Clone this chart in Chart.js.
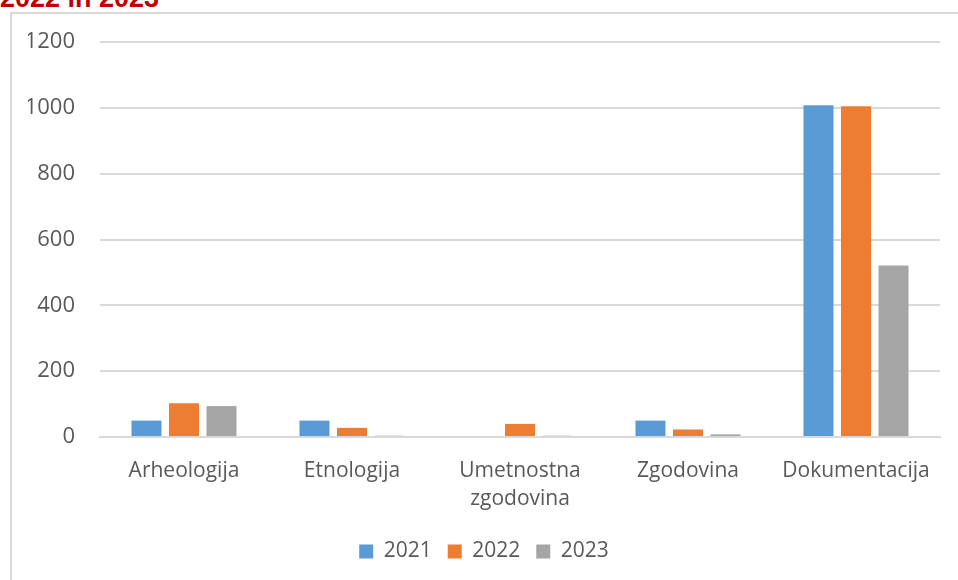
<!DOCTYPE html>
<html>
<head>
<meta charset="utf-8">
<script src="https://cdn.jsdelivr.net/npm/chart.js@4"></script>
<style>
  body { margin: 0; background: #fff; overflow: hidden; }
  #title { position: absolute; left: 0; top: -17px; font: bold 27px "Liberation Sans", Arial, sans-serif; color: #c00000; line-height: 30px; }
  #frame { position: absolute; left: 10px; top: 12px; width: 1000px; height: 600px; border: 2px solid #d9d9d9; box-sizing: border-box; }
  #chart { position: absolute; left: 0; top: 0; }
</style>
</head>
<body>
<div id="title">2022 in 2023</div>
<div id="frame"></div>
<canvas id="chart" width="958" height="580"></canvas>
<script>
const categories = ['Arheologija', 'Etnologija', ['Umetnostna', 'zgodovina'], 'Zgodovina', 'Dokumentacija']
const years = ['2021', '2022', '2023']
const values2021 = [50, 50, 0, 50, 1008]
const values2022 = [103, 28, 40, 23, 1005]
const values2023 = [94, 4, 4, 8, 521]
const colors = ['#5b9bd5', '#ed7d31', '#a5a5a5']

const family = '"Open Sans", "Liberation Sans", sans-serif'

new Chart(document.getElementById('chart'), {
    type: 'bar',
    data: {
        labels: categories,
        datasets: [values2021, values2022, values2023].map((data, i) => ({
            label: years[i],
            data,
            backgroundColor: colors[i],
            categoryPercentage: 0.67,
            barPercentage: 0.8
        }))
    },
    options: {
        responsive: false,
        animation: false,
        layout: { padding: { left: 28, right: 18, top: 42, bottom: 8 } },
        plugins: {
            legend: {
                position: 'bottom',
                labels: { font: { family, size: 21 }, color: '#595959', boxWidth: 14, boxHeight: 14, padding: 16 }
            },
            tooltip: { enabled: false }
        },
        scales: {
            x: {
                grid: { display: false },
                border: { color: '#d9d9d9', width: 2 },
                ticks: { font: { family, size: 21, lineHeight: 1.38 }, color: '#595959', padding: 11 }
            },
            y: {
                min: 0,
                max: 1200,
                afterFit: scale => { scale.width = 72 },
                ticks: { stepSize: 200, font: { family, size: 22 }, color: '#595959', padding: 25, callback: v => String(v) },
                grid: { color: '#d9d9d9', lineWidth: 2, drawTicks: false },
                border: { display: false }
            }
        }
    }
})
</script>
</body>
</html>
